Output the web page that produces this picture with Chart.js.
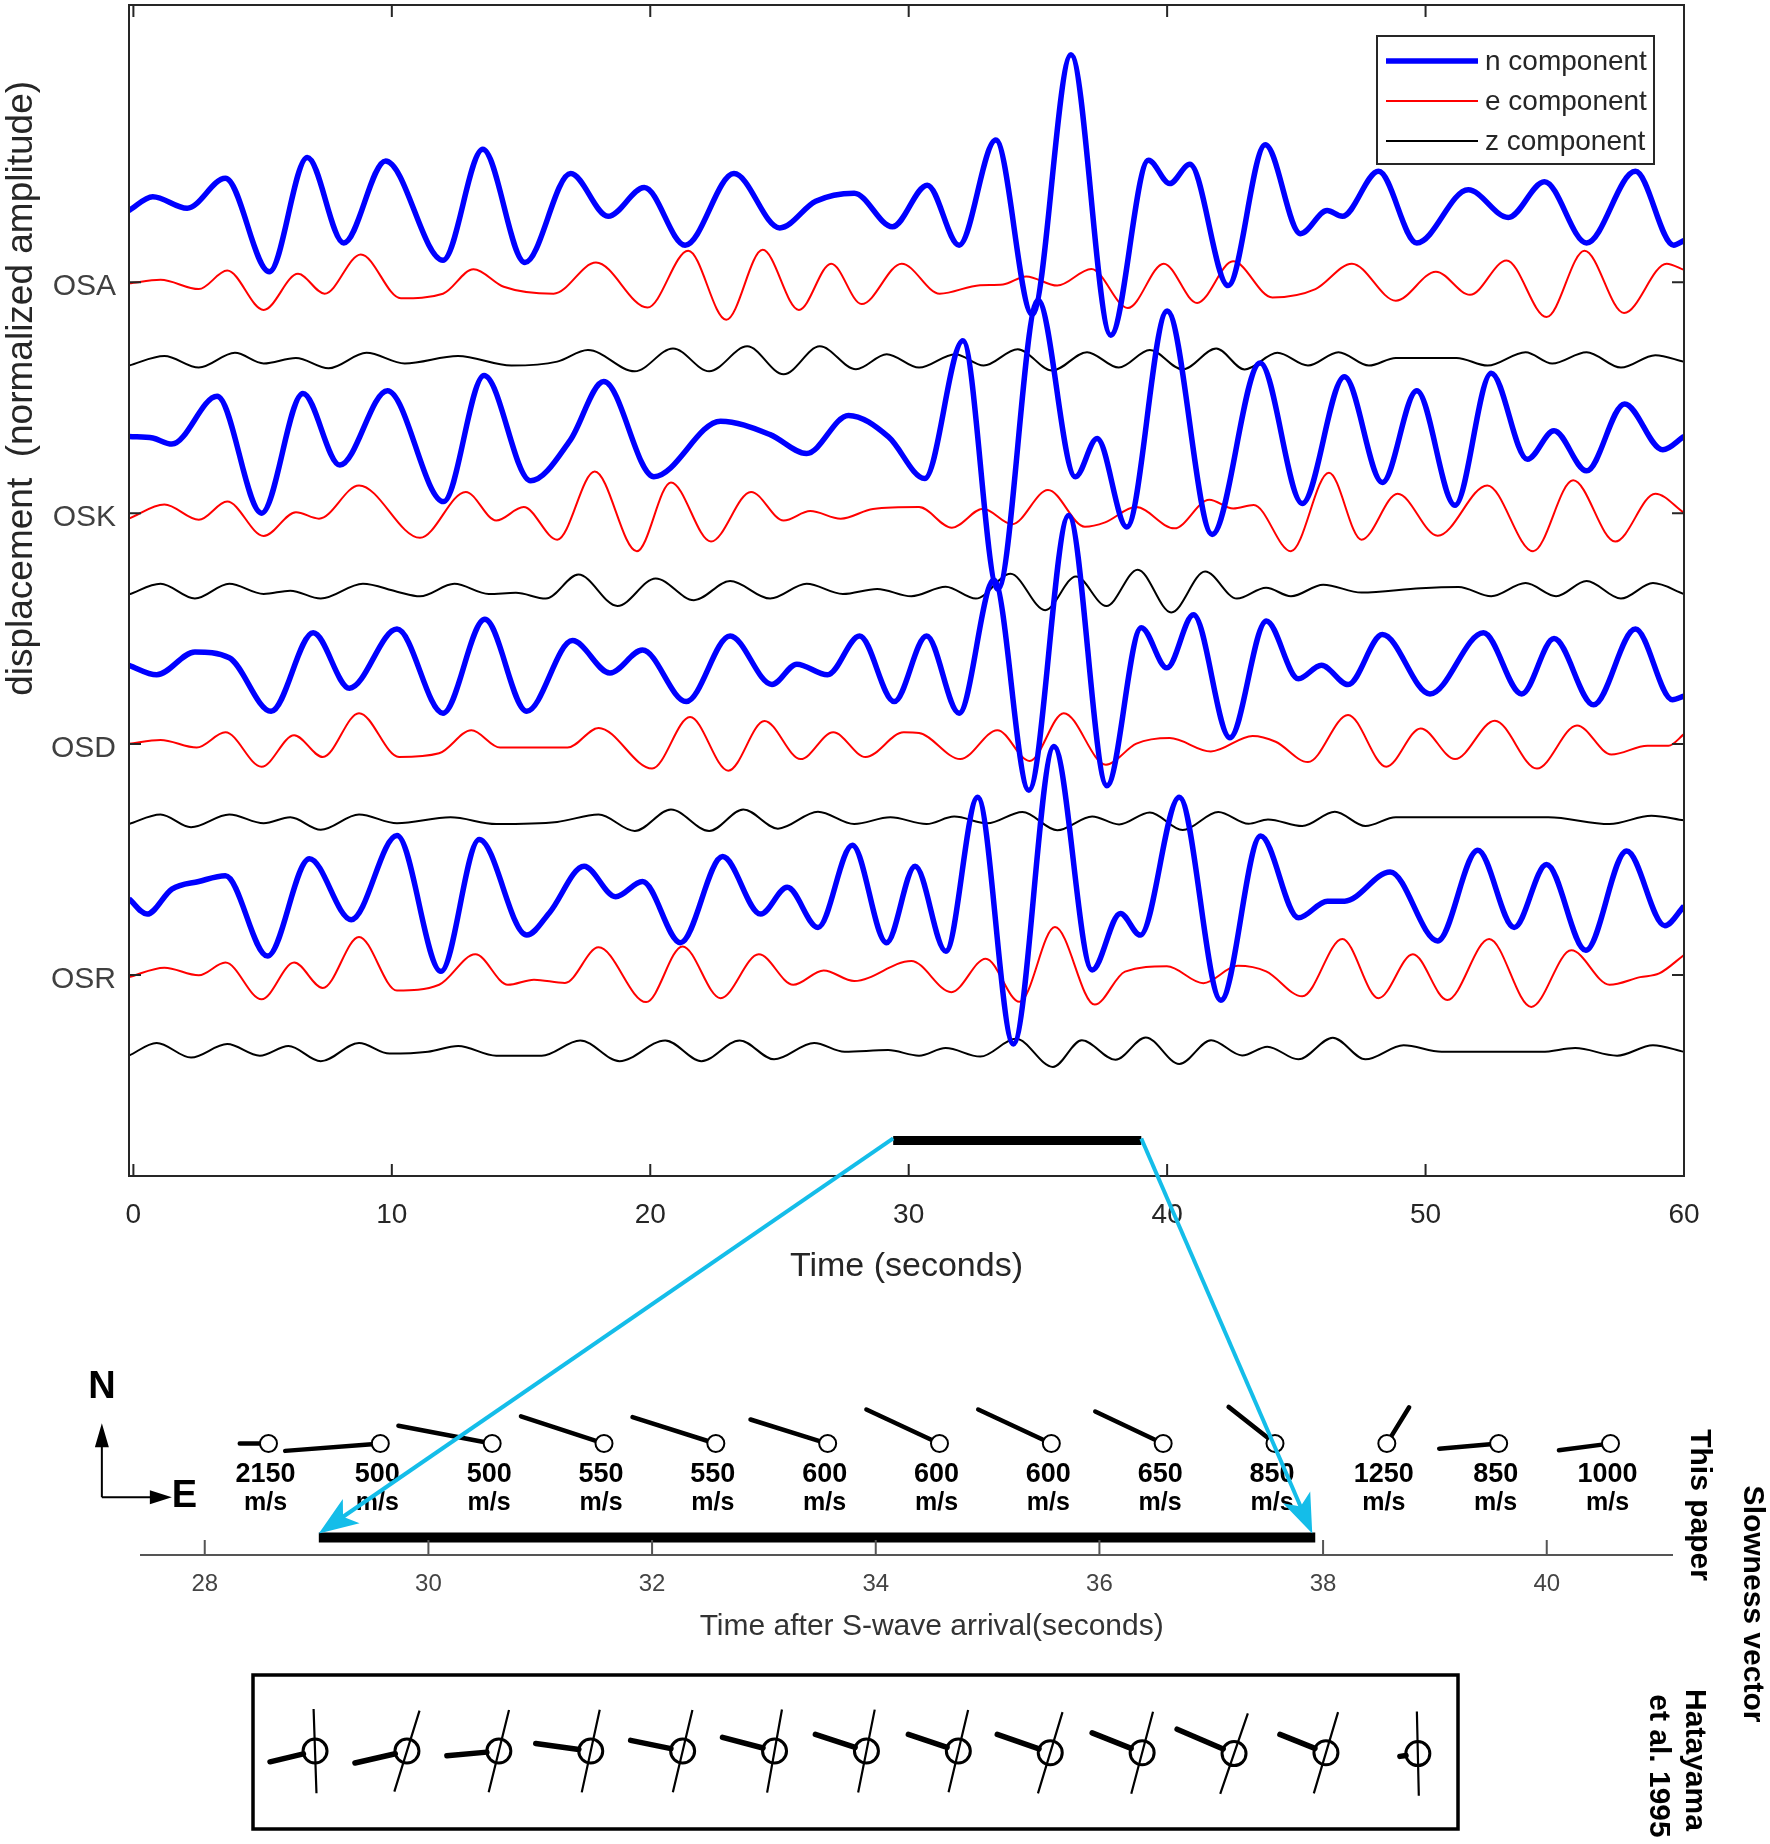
<!DOCTYPE html>
<html>
<head>
<meta charset="utf-8">
<script src="https://cdn.jsdelivr.net/npm/chart.js@4.4.1/dist/chart.umd.min.js"></script>
<style>
  html, body { margin: 0; padding: 0; background: #fff; }
  #page { position: relative; width: 1770px; height: 1844px; overflow: hidden; background: #fff; }
  canvas { position: absolute; left: 0; }
</style>
</head>
<body>
<div id="page">
  <canvas id="waves" width="1770" height="1300" style="top:0;width:1770px;height:1300px"></canvas>
  <canvas id="slowness" width="1770" height="744" style="top:1100px;width:1770px;height:744px"></canvas>
  <canvas id="hatayama" width="1770" height="184" style="top:1660px;width:1770px;height:184px"></canvas>
</div>
<script>
// ---- seismograms: [time s, trace level] (extrema mostly)
const stations = ['OSA', 'OSK', 'OSD', 'OSR'];
const stationLevels = [38.7, 28.7, 18.7, 8.7];
const components = ['n component', 'e component', 'z component'];
const componentColors = ['#0000ff', '#ff0000', '#000000'];
const componentWidths = [5.5, 2, 2];
const timeTicks = [0, 10, 20, 30, 40, 50, 60];

const osaN = [[-0.17,41.8],[0.75,42.4],[2.08,41.9],[3.56,43.2],[5.26,39.15],[6.73,44.1],[8.14,40.4],[9.76,43.95],[11.98,39.65],[13.52,44.45],[15.15,39.55],[16.92,43.4],[18.37,41.55],[19.77,42.8],[21.35,40.3],[23.24,43.4],[25.01,41.05],[26.4,42.2],[27.89,42.55],[29.37,41.1],[30.72,42.9],[31.95,40.3],[33.37,44.85],[34.78,37.3],[36.28,48.55],[37.82,36.4],[39.28,43.98],[40.1,42.97],[40.88,43.8],[42.36,38.55],[43.8,44.65],[45.16,40.8],[46.19,41.8],[46.78,41.55],[48.18,43.5],[49.66,40.4],[51.65,42.7],[53.2,41.5],[54.6,43.05],[56.23,40.4],[58.12,43.5],[59.6,40.3],[60,40.5]];
const osaE = [[-0.17,38.65],[1.05,38.8],[2.53,38.4],[3.63,39.2],[5.04,37.5],[6.37,39.06],[7.4,38.2],[8.8,39.9],[10.35,38.0],[11.98,38.2],[13.16,39.26],[14.33,38.5],[16.26,38.2],[17.9,39.55],[19.89,37.6],[21.47,40.06],[22.94,37.07],[24.35,40.1],[25.75,37.5],[27.0,39.5],[28.18,37.75],[29.73,39.5],[31.2,38.2],[32.76,38.57],[33.65,38.6],[34.55,38.95],[35.75,38.55],[37.07,39.27],[38.48,37.58],[39.87,39.5],[41.16,37.8],[42.55,39.6],[44.07,38.04],[45.74,38.4],[47.15,39.5],[48.85,37.9],[50.4,39.15],[51.72,38.15],[53.13,39.64],[54.68,37.19],[56.15,40.06],[57.68,37.36],[59.33,39.5],[60,39.23]];
const osaZ = [[-0.17,35.09],[1.2,35.5],[2.53,35.0],[3.93,35.64],[5.04,35.18],[6.29,35.42],[7.55,34.97],[9.02,35.64],[10.5,35.18],[12.56,35.5],[14.63,35.09],[16.4,35.26],[17.59,35.76],[19.4,34.84],[20.88,35.83],[22.28,34.84],[23.75,35.92],[25.16,34.71],[26.56,35.92],[27.96,34.93],[29.15,35.58],[30.4,35.0],[31.8,35.58],[32.9,35.09],[34.22,35.8],[35.55,34.87],[36.9,35.67],[38.13,35.0],[39.33,35.76],[40.6,34.92],[41.9,35.83],[43.0,34.92],[44.27,35.64],[45.45,35.09],[46.63,35.67],[47.81,35.09],[48.85,35.42],[51.2,35.42],[52.4,35.09],[53.87,35.67],[54.9,35.18],[56.23,35.67],[57.56,35.0],[58.89,35.54],[60,35.25]];

const oskN = [[-0.17,32.02],[0.75,31.95],[1.49,31.69],[3.24,33.76],[4.96,28.7],[6.56,33.88],[7.99,30.78],[9.83,34.0],[12.0,29.2],[13.57,34.66],[15.37,30.1],[16.9,31.85],[18.2,34.4],[20.14,30.28],[22.72,32.68],[24.64,32.1],[26.05,31.28],[27.67,32.93],[29.22,32.0],[30.62,30.2],[32.1,36.16],[33.45,25.4],[35.0,37.92],[36.45,30.27],[37.29,31.93],[38.44,28.1],[40.0,37.45],[41.74,27.78],[43.6,35.2],[45.23,29.12],[46.86,34.6],[48.33,30.03],[49.66,34.0],[51.14,29.04],[52.54,34.76],[53.94,31.03],[54.97,32.27],[56.23,30.53],[57.7,33.43],[59.18,31.44],[60,32.02]];
const oskE = [[-0.17,28.46],[1.2,29.07],[2.53,28.41],[3.63,29.2],[5.04,27.71],[6.29,28.74],[7.18,28.46],[8.73,29.9],[11.09,27.63],[12.86,29.62],[14.04,28.38],[15.1,28.96],[16.4,27.55],[17.85,30.5],[19.48,27.05],[20.8,30.03],[22.35,27.47],[23.9,29.62],[25.16,28.38],[26.19,28.79],[27.37,28.46],[28.62,28.88],[30.4,28.96],[31.67,28.07],[32.88,28.89],[34.0,28.22],[35.39,29.7],[36.82,28.11],[37.6,28.3],[38.79,28.96],[40.28,28.04],[41.63,29.28],[42.56,28.9],[43.35,29.05],[44.79,27.05],[46.26,30.45],[47.52,27.55],[48.92,29.54],[50.47,27.72],[52.39,29.9],[54.16,27.05],[55.71,30.12],[57.34,27.47],[58.89,29.54],[60,28.71]];
const oskZ = [[-0.17,25.18],[1.05,25.64],[2.38,25.0],[3.71,25.64],[5.04,25.2],[6.07,25.34],[7.25,25.0],[8.88,25.64],[10.2,25.3],[11.09,25.1],[12.42,25.64],[13.75,25.2],[14.8,25.25],[15.96,25.0],[17.22,26.04],[18.73,24.68],[20.21,25.87],[21.69,24.93],[23.09,25.76],[24.64,25.0],[26.05,25.64],[27.45,25.2],[28.78,25.42],[30.1,25.1],[31.43,25.51],[32.6,25.0],[33.94,26.07],[35.28,24.5],[36.47,25.96],[37.65,24.68],[38.86,26.25],[40.16,24.4],[41.47,26.17],[42.7,25.0],[43.83,25.47],[44.79,25.1],[46.04,25.6],[47.52,25.26],[49.81,25.45],[51.28,25.5],[52.54,25.1],[53.87,25.67],[55.05,25.1],[56.23,25.76],[57.56,25.0],[58.8,25.67],[60,25.2]];

const osdN = [[-0.17,22.11],[0.9,21.7],[2.38,22.69],[3.71,22.44],[5.33,20.12],[6.96,23.52],[8.36,21.12],[10.2,23.68],[11.98,20.04],[13.6,24.1],[15.22,20.12],[16.99,23.18],[18.44,21.78],[19.7,22.77],[21.39,20.54],[23.09,23.38],[24.71,21.28],[25.67,22.16],[26.86,21.7],[28.1,23.38],[29.44,20.54],[30.69,23.38],[31.95,20.04],[33.3,25.8],[34.65,16.7],[36.19,28.6],[37.67,16.9],[39.0,23.74],[39.99,22.0],[41.02,24.3],[42.43,18.98],[43.84,24.03],[45.08,21.53],[45.97,22.11],[47.0,21.28],[48.33,23.44],[50.17,20.87],[52.24,23.52],[53.72,20.87],[54.97,23.27],[56.5,20.4],[58.12,23.68],[59.55,20.62],[60,20.78]];
const osdE = [[-0.17,18.71],[1.05,18.88],[2.45,18.55],[3.56,19.21],[4.96,17.72],[6.22,19.08],[7.33,18.14],[8.73,20.04],[10.28,18.14],[11.83,18.3],[13.08,19.3],[14.19,18.55],[15.37,18.55],[16.8,18.55],[18.0,19.4],[20.07,17.64],[21.54,19.87],[23.02,17.55],[24.42,19.7],[25.82,18.05],[27.08,19.21],[28.33,18.14],[29.81,19.21],[30.4,19.18],[32.0,18.05],[33.43,19.3],[34.68,17.97],[36.0,20.04],[37.63,17.81],[38.81,18.72],[40.1,18.96],[41.69,18.38],[43.31,19.05],[44.2,18.8],[45.45,17.92],[47.0,19.96],[48.48,17.72],[49.81,19.38],[51.14,18.05],[52.68,19.71],[54.31,17.64],[55.86,19.51],[57.19,18.25],[58.59,18.63],[59.4,18.63],[60,19.13]];
const osdZ = [[-0.17,15.24],[1.05,15.65],[2.23,15.1],[3.71,15.65],[5.04,15.27],[6.07,15.53],[7.25,14.99],[8.73,15.65],[10.2,15.27],[12.27,15.53],[14.04,15.24],[16.4,15.33],[18.0,15.65],[19.4,14.94],[20.8,15.87],[22.28,14.94],[23.6,15.87],[24.94,15.04],[26.49,15.77],[27.89,15.24],[29.29,15.53],[30.69,15.24],[31.76,15.56],[33.04,15.27],[34.4,15.76],[35.75,14.97],[37.1,15.57],[38.14,15.22],[39.33,15.74],[40.6,14.98],[41.98,15.76],[43.15,15.25],[43.9,15.44],[45.23,15.15],[46.49,15.77],[47.67,15.15],[48.85,15.53],[54.75,15.53],[57.12,15.24],[58.74,15.6],[60,15.4]];

const osrN = [[-0.17,12.0],[0.53,11.34],[1.49,12.42],[2.53,12.75],[3.56,13.0],[5.19,9.52],[6.81,13.74],[8.43,11.1],[10.2,14.74],[11.9,8.86],[13.38,14.57],[15.22,10.43],[16.1,11.4],[17.44,13.41],[18.66,12.09],[19.7,12.75],[21.17,10.1],[22.8,13.83],[24.27,11.34],[25.3,12.5],[26.49,10.76],[27.82,14.32],[29.14,10.1],[30.25,13.41],[31.44,9.73],[32.67,16.4],[34.05,5.72],[35.62,18.6],[37.1,8.92],[38.19,11.37],[38.96,10.43],[40.47,16.4],[42.08,7.61],[43.62,14.72],[45.08,11.18],[46.2,11.9],[46.87,11.9],[48.63,13.16],[50.47,10.18],[52.02,14.1],[53.43,10.76],[54.68,13.49],[56.2,9.77],[57.78,14.07],[59.26,10.84],[60,11.68]];
const osrE = [[-0.17,8.61],[1.2,9.02],[2.53,8.69],[3.56,9.24],[4.96,7.65],[6.22,9.24],[7.33,8.14],[8.73,10.35],[10.2,8.03],[11.83,8.28],[13.23,9.6],[14.49,8.28],[15.5,8.5],[16.7,8.36],[18.0,9.9],[19.84,7.53],[21.25,9.94],[22.72,7.7],[24.2,9.6],[25.53,8.28],[26.71,8.9],[27.89,8.44],[30.1,9.31],[31.65,7.96],[32.98,9.41],[34.29,7.54],[35.66,10.78],[37.2,7.42],[38.37,8.85],[39.99,9.08],[41.4,8.35],[42.73,9.1],[43.83,8.86],[45.23,7.78],[46.78,10.26],[48.18,7.7],[49.51,9.6],[50.84,7.62],[52.46,10.26],[54.09,7.32],[55.64,9.77],[57.12,8.28],[58.3,8.61],[59.04,8.77],[60,9.57]];
const osrZ = [[-0.17,5.21],[0.9,5.76],[2.23,5.13],[3.63,5.71],[4.89,5.21],[6.0,5.63],[7.25,4.97],[8.73,5.76],[9.91,5.3],[11.4,5.38],[12.57,5.63],[14.04,5.21],[15.8,5.21],[17.29,5.87],[18.81,4.97],[20.58,5.87],[21.98,4.97],[23.46,5.87],[24.79,5.05],[26.34,5.76],[27.52,5.38],[29.2,5.45],[30.4,5.21],[31.43,5.54],[32.77,5.17],[34.15,5.94],[35.58,4.72],[36.7,5.88],[38.0,5.03],[39.17,6.0],[40.47,4.85],[41.7,5.88],[42.9,5.22],[43.88,5.6],[45.08,5.05],[46.41,5.99],[47.67,5.05],[49.15,5.66],[50.62,5.38],[54.5,5.38],[55.79,5.54],[57.41,5.21],[58.8,5.66],[60,5.38]];

const traces = [[osaN, osaE, osaZ], [oskN, oskE, oskZ], [osdN, osdE, osdZ], [osrN, osrE, osrZ]];

// analysis window marked under the seismograms and on the slowness time axis
const windowTop = [29.4, 39.0];
const windowTopLevel = 1.54;
const windowBottom = [29.02, 37.93];
const windowBottomLevel = 0.161;

// ---- slowness vectors (this paper)
const slowTicks = [28, 30, 32, 34, 36, 38, 40];
const vectorTimes = [28.57, 29.57, 30.57, 31.57, 32.57, 33.57, 34.57, 35.57, 36.57, 37.57, 38.57, 39.57, 40.57];
const vectorSpeeds = [2150, 500, 500, 550, 550, 600, 600, 600, 650, 850, 1250, 850, 1000];
const vectorAzimuths = [270, 265.5, 281, 288.6, 288, 287.7, 295.5, 295.5, 295.8, 309, 31, 265, 262.5];
const vectorLevel = 1.02;

// ---- Hatayama et al. 1995 vectors
const hataTilts = [-1.8, 15.9, 12.8, 11.3, 12.3, 9.3, 10.4, 12.3, 15.5, 13.7, 17.5, 15.3, -1.2];
const hataTailAz = [255.4, 256, 264.5, 278.6, 282.7, 286.1, 289.7, 290.1, 290.7, 293.5, 295.1, 293.5, 260.5];
const hataTailLen = [0.506, 0.583, 0.568, 0.605, 0.58, 0.589, 0.59, 0.579, 0.616, 0.593, 0.684, 0.546, 0.198];
const hataLevels = [0, 0, 0, 0, 0, 0, 0, 0, -0.02, -0.02, -0.03, -0.02, -0.03];

const FONT = "'Liberation Sans', Arial, Helvetica, sans-serif";
const AXIS = '#262626';
const CYAN = '#14bde9';
Chart.defaults.font.family = FONT;
Chart.defaults.animation = false;

function toXY(arr) { return arr.map(p => ({ x: p[0], y: p[1] })); }

// ================= seismogram chart =================
const waveDatasets = [];
components.forEach((comp, c) => {
  traces.forEach((st, s) => {
    waveDatasets.push({
      label: stations[s] + ' ' + comp,
      data: toXY(st[c]),
      borderColor: componentColors[c],
      borderWidth: componentWidths[c],
      pointRadius: 0,
      cubicInterpolationMode: 'monotone',
      fill: false
    });
  });
});
waveDatasets.push({
  label: 'window',
  data: windowTop.map(t => ({ x: t, y: windowTopLevel })),
  borderColor: '#000', borderWidth: 9, pointRadius: 0, borderCapStyle: 'butt'
});

const waveFrame = {
  id: 'waveFrame',
  afterDatasetsDraw(chart) {
    const { ctx, chartArea: a, scales: { x, y } } = chart;
    ctx.save();
    ctx.strokeStyle = AXIS;
    ctx.lineWidth = 2;
    ctx.strokeRect(a.left, a.top, a.right - a.left, a.bottom - a.top);
    ctx.beginPath();
    timeTicks.forEach(v => {
      const px = x.getPixelForValue(v);
      ctx.moveTo(px, a.bottom); ctx.lineTo(px, a.bottom - 12);
      ctx.moveTo(px, a.top); ctx.lineTo(px, a.top + 12);
    });
    stationLevels.forEach(v => {
      const py = y.getPixelForValue(v);
      ctx.moveTo(a.left, py); ctx.lineTo(a.left + 12, py);
      ctx.moveTo(a.right, py); ctx.lineTo(a.right - 12, py);
    });
    ctx.stroke();

    // y title sits above the middle of the axis in the original
    ctx.save();
    ctx.translate(22, y.getPixelForValue(34.1));
    ctx.rotate(-Math.PI / 2);
    ctx.font = '37px ' + FONT;
    ctx.fillStyle = AXIS;
    ctx.textAlign = 'center';
    ctx.textBaseline = 'middle';
    ctx.fillText('displacement  (normalized amplitude)', 0, 0);
    ctx.restore();

    // legend box
    const lx = a.right - 307, ly = a.top + 31;
    ctx.fillStyle = '#fff';
    ctx.fillRect(lx, ly, 277, 128);
    ctx.strokeStyle = AXIS;
    ctx.lineWidth = 2;
    ctx.strokeRect(lx, ly, 277, 128);
    ctx.font = '28px ' + FONT;
    ctx.textAlign = 'left';
    ctx.textBaseline = 'middle';
    components.forEach((comp, c) => {
      const ry = ly + 25 + c * 40;
      ctx.beginPath();
      ctx.strokeStyle = componentColors[c];
      ctx.lineWidth = componentWidths[c];
      ctx.moveTo(lx + 9, ry); ctx.lineTo(lx + 101, ry);
      ctx.stroke();
      ctx.fillStyle = AXIS;
      ctx.fillText(comp, lx + 108, ry + 1);
    });
    ctx.restore();
  }
};

const waveChart = new Chart(document.getElementById('waves'), {
  type: 'line',
  data: { datasets: waveDatasets },
  options: {
    responsive: false,
    devicePixelRatio: 1,
    layout: { padding: { left: 0, right: 86, top: 5, bottom: 0 } },
    plugins: { legend: { display: false }, tooltip: { enabled: false } },
    scales: {
      x: {
        type: 'linear', min: -0.17, max: 60,
        afterBuildTicks: s => { s.ticks = timeTicks.map(v => ({ value: v })); },
        afterFit: s => { s.height = 124; s.paddingLeft = 0; s.paddingRight = 0; },
        grid: { display: false, drawTicks: false },
        border: { display: false },
        ticks: { font: { size: 28 }, color: AXIS, padding: 22, maxRotation: 0, autoSkip: false },
        title: { display: true, text: 'Time (seconds)', font: { size: 34 }, color: AXIS, padding: { top: 0, bottom: 13 } }
      },
      y: {
        type: 'linear', min: 0, max: 50.7,
        afterBuildTicks: s => { s.ticks = stationLevels.map(v => ({ value: v })); },
        afterFit: s => { s.width = 129; s.paddingTop = 0; s.paddingBottom = 0; },
        grid: { display: false, drawTicks: false },
        border: { display: false },
        ticks: { font: { size: 30 }, color: '#404040', padding: 13, labelOffset: 5, callback: (v, i) => stations[i] }
      }
    }
  },
  plugins: [waveFrame]
});

// ================= slowness vector chart =================
const PX_PER_UNIT = 111.84;
const circleR = 8.5 / PX_PER_UNIT;
const vecK = 43500 / PX_PER_UNIT;   // drawn length ~ 1 / apparent velocity
const vecPoints = [];
vectorTimes.forEach((t, i) => {
  const a = vectorAzimuths[i] * Math.PI / 180;
  const len = vecK / vectorSpeeds[i];
  vecPoints.push({ x: t + circleR * Math.sin(a), y: vectorLevel + circleR * Math.cos(a) });
  vecPoints.push({ x: t + (circleR + len) * Math.sin(a), y: vectorLevel + (circleR + len) * Math.cos(a) });
  vecPoints.push({ x: t, y: null });
});

function arrowHead(ctx, x1, y1, x2, y2, len, half) {
  const ang = Math.atan2(y2 - y1, x2 - x1);
  ctx.beginPath();
  ctx.moveTo(x2, y2);
  ctx.lineTo(x2 - len * Math.cos(ang - half), y2 - len * Math.sin(ang - half));
  ctx.lineTo(x2 - len * 0.7 * Math.cos(ang), y2 - len * 0.7 * Math.sin(ang));
  ctx.lineTo(x2 - len * Math.cos(ang + half), y2 - len * Math.sin(ang + half));
  ctx.closePath();
  ctx.fill();
}

const slowDecor = {
  id: 'slowDecor',
  afterDraw(chart) {
    const { ctx, chartArea: a, scales: { x, y } } = chart;
    ctx.save();
    // inward ticks
    ctx.strokeStyle = '#555';
    ctx.lineWidth = 2;
    ctx.beginPath();
    slowTicks.forEach(v => {
      const px = x.getPixelForValue(v);
      ctx.moveTo(px, a.bottom); ctx.lineTo(px, a.bottom - 15);
    });
    ctx.stroke();

    // axis title
    ctx.fillStyle = '#333';
    ctx.font = '30px ' + FONT;
    ctx.textAlign = 'center';
    ctx.textBaseline = 'middle';
    ctx.fillText('Time after S-wave arrival(seconds)', x.getPixelForValue(34.5), a.bottom + 72);

    // velocity labels
    ctx.fillStyle = '#000';
    vectorTimes.forEach((t, i) => {
      const px = x.getPixelForValue(t) - 3;
      ctx.font = 'bold 27px ' + FONT;
      ctx.fillText(String(vectorSpeeds[i]), px, y.getPixelForValue(0.738));
      ctx.font = 'bold 25px ' + FONT;
      ctx.fillText('m/s', px, y.getPixelForValue(0.474));
    });

    // N / E compass
    const ox = x.getPixelForValue(27.08), oy = y.getPixelForValue(0.528);
    ctx.strokeStyle = '#000';
    ctx.lineWidth = 2;
    ctx.beginPath();
    ctx.moveTo(ox, oy); ctx.lineTo(ox, oy - 55);
    ctx.moveTo(ox, oy); ctx.lineTo(ox + 52, oy);
    ctx.stroke();
    ctx.beginPath();
    ctx.moveTo(ox, oy - 74); ctx.lineTo(ox - 7, oy - 50); ctx.lineTo(ox + 7, oy - 50); ctx.closePath();
    ctx.moveTo(ox + 70, oy); ctx.lineTo(ox + 48, oy - 7); ctx.lineTo(ox + 48, oy + 7); ctx.closePath();
    ctx.fill();
    ctx.font = 'bold 38px ' + FONT;
    ctx.textAlign = 'center';
    ctx.fillText('N', ox, oy - 110);
    ctx.textAlign = 'left';
    ctx.fillText('E', ox + 70, oy - 1);

    // rotated side labels
    ctx.font = 'bold 30px ' + FONT;
    ctx.textAlign = 'center';
    [['This paper', 1699, 405], ['Slowness vector', 1752, 504], ['Hatayama', 1694, 660], ['et al. 1995', 1658, 666]].forEach(([txt, cx, cy]) => {
      ctx.save();
      ctx.translate(cx, cy);
      ctx.rotate(Math.PI / 2);
      ctx.fillText(txt, 0, 0);
      ctx.restore();
    });

    // cyan zoom arrows from the seismogram window to the slowness window
    const wx = waveChart.scales.x, wy = waveChart.scales.y;
    const offY = 1100;
    ctx.strokeStyle = CYAN;
    ctx.fillStyle = CYAN;
    ctx.lineWidth = 4;
    [0, 1].forEach(k => {
      const x1 = wx.getPixelForValue(windowTop[k]);
      const y1 = wy.getPixelForValue(windowTopLevel) - offY - 2;
      const x2 = x.getPixelForValue(windowBottom[k]) - (k ? 3 : 0);
      const y2 = y.getPixelForValue(windowBottomLevel) - 4;
      const ang = Math.atan2(y2 - y1, x2 - x1);
      ctx.beginPath();
      ctx.moveTo(x1, y1);
      ctx.lineTo(x2 - 25 * Math.cos(ang), y2 - 25 * Math.sin(ang));
      ctx.stroke();
      arrowHead(ctx, x1, y1, x2, y2, 42, 0.36);
    });
    ctx.restore();
  }
};

new Chart(document.getElementById('slowness'), {
  type: 'scatter',
  data: {
    datasets: [
      { label: 'stations', data: vectorTimes.map(t => ({ x: t, y: vectorLevel })), pointRadius: 8.5, pointBorderWidth: 2,
        pointBackgroundColor: '#fff', pointBorderColor: '#000', showLine: false },
      { label: 'slowness vector', data: vecPoints, showLine: true, spanGaps: false, borderColor: '#000', borderWidth: 4.5,
        borderCapStyle: 'round', pointRadius: 0 },
      { label: 'window', data: windowBottom.map(t => ({ x: t, y: windowBottomLevel })), showLine: true, borderColor: '#000',
        borderWidth: 10, borderCapStyle: 'butt', pointRadius: 0 }
    ]
  },
  options: {
    responsive: false,
    devicePixelRatio: 1,
    layout: { padding: { left: 141, right: 98, top: 0, bottom: 0 } },
    plugins: { legend: { display: false }, tooltip: { enabled: false } },
    scales: {
      x: {
        type: 'linear', min: 27.43, max: 41.12,
        afterBuildTicks: s => { s.ticks = slowTicks.map(v => ({ value: v })); },
        afterFit: s => { s.height = 289; s.paddingLeft = 0; s.paddingRight = 0; },
        grid: { display: false, drawTicks: false },
        border: { display: true, color: '#555', width: 2 },
        ticks: { font: { size: 24 }, color: '#444', padding: 15, maxRotation: 0, autoSkip: false }
      },
      y: { type: 'linear', display: false, min: 0, max: 455 / PX_PER_UNIT }
    }
  },
  plugins: [slowDecor]
});

// ================= Hatayama et al. 1995 panel =================
const HPX = 91.9;
const hataR = 12 / HPX;
const longPts = [], tailPts = [];
hataTilts.forEach((tilt, i) => {
  const a = tilt * Math.PI / 180, h = 0.5, lv = hataLevels[i];
  longPts.push({ x: i - h * Math.sin(a), y: lv - h * Math.cos(a) });
  longPts.push({ x: i + h * Math.sin(a), y: lv + h * Math.cos(a) });
  longPts.push({ x: i, y: null });
  const b = hataTailAz[i] * Math.PI / 180;
  tailPts.push({ x: i + hataR * Math.sin(b), y: lv + hataR * Math.cos(b) });
  tailPts.push({ x: i + hataTailLen[i] * Math.sin(b), y: lv + hataTailLen[i] * Math.cos(b) });
  tailPts.push({ x: i, y: null });
});

const hataBox = {
  id: 'hataBox',
  afterDraw(chart) {
    const { ctx, chartArea: a } = chart;
    ctx.save();
    ctx.strokeStyle = '#000';
    ctx.lineWidth = 3.5;
    ctx.strokeRect(a.left, a.top, a.right - a.left, a.bottom - a.top);
    ctx.restore();
  }
};

new Chart(document.getElementById('hatayama'), {
  type: 'scatter',
  data: {
    datasets: [
      { label: 'circles', data: hataLevels.map((lv, i) => ({ x: i, y: lv })), pointRadius: 12, pointBorderWidth: 3,
        pointBackgroundColor: 'rgba(0,0,0,0)', pointBorderColor: '#000', showLine: false },
      { label: 'long', data: longPts, showLine: true, spanGaps: false, borderColor: '#000', borderWidth: 2.2, pointRadius: 0 },
      { label: 'tail', data: tailPts, showLine: true, spanGaps: false, borderColor: '#000', borderWidth: 5.5,
        borderCapStyle: 'round', pointRadius: 0 }
    ]
  },
  options: {
    responsive: false,
    devicePixelRatio: 1,
    layout: { padding: { left: 253, right: 312, top: 12, bottom: 4 } },
    plugins: { legend: { display: false }, tooltip: { enabled: false } },
    scales: {
      x: { type: 'linear', display: false, min: -0.675, max: 12.437 },
      y: { type: 'linear', display: false, min: -0.925, max: 0.903 }
    }
  },
  plugins: [hataBox]
});
</script>
</body>
</html>
